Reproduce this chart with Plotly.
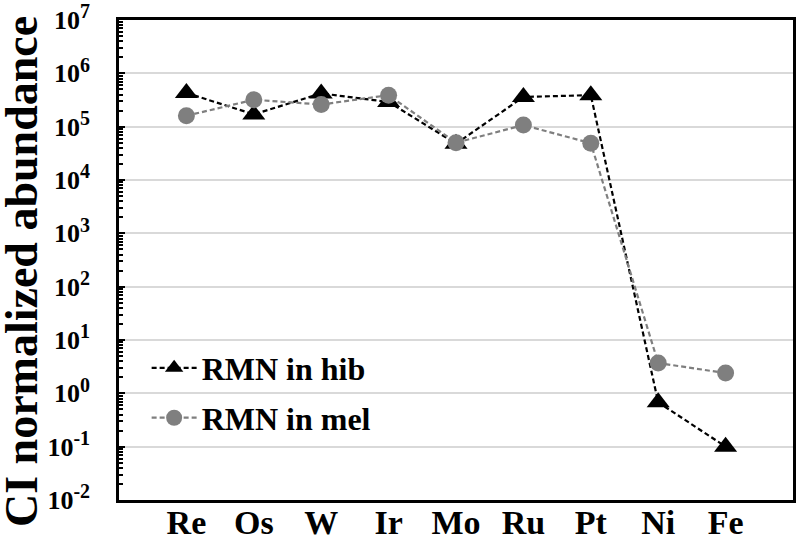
import plotly.graph_objects as go

elements = ["Re", "Os", "W", "Ir", "Mo", "Ru", "Pt", "Ni", "Fe"]
rmn_hib = [4.3e5, 1.7e5, 4.2e5, 2.9e5, 4.8e4, 3.6e5, 3.9e5, 0.68, 0.1]
rmn_mel = [1.6e5, 3.2e5, 2.6e5, 3.9e5, 5.0e4, 1.07e5, 4.9e4, 3.7, 2.4]
ytick_vals = [1e-2, 1e-1, 1e0, 1e1, 1e2, 1e3, 1e4, 1e5, 1e6, 1e7]
ytick_exp = ["-2", "-1", "0", "1", "2", "3", "4", "5", "6", "7"]
minor_vals = [m * 10.0 ** e for e in range(-2, 7) for m in range(2, 10)]

FONT = "'Liberation Serif', 'Times New Roman', serif"

ytick_text = ["<b>10<sup><span style='font-size:20px'>%s</span></sup></b>" % e
              for e in ytick_exp]

fig = go.Figure()
fig.add_trace(go.Scatter(
    x=elements, y=rmn_hib, name="<b>RMN in hib</b>", mode="lines+markers",
    line=dict(color="black", width=2.2, dash="5px,3px"),
    marker=dict(symbol="triangle-up", size=20, color="black"),
    legend="legend",
))
fig.add_trace(go.Scatter(
    x=elements, y=rmn_mel, name="<b>RMN in mel</b>", mode="lines+markers",
    line=dict(color="#7f7f7f", width=2.2, dash="5px,3px"),
    marker=dict(symbol="circle", size=17, color="#7f7f7f"),
    legend="legend2",
))

fig.update_layout(
    width=800, height=547,
    margin=dict(l=119, r=7, t=20, b=47),
    plot_bgcolor="white", paper_bgcolor="white",
    font=dict(family=FONT, color="black"),
    showlegend=True,
    legend=dict(x=0.041, y=0.275, xanchor="left", yanchor="middle", itemwidth=45,
                font=dict(size=32, family=FONT, color="black"),
                bgcolor="rgba(0,0,0,0)"),
    legend2=dict(x=0.041, y=0.171, xanchor="left", yanchor="middle", itemwidth=45,
                 font=dict(size=32, family=FONT, color="black"),
                 bgcolor="rgba(0,0,0,0)"),
    annotations=[dict(
        text="<b>CI normalized abundance</b>", textangle=-90,
        xref="paper", yref="paper", x=(21 - 119) / 674, y=(500 - 272) / 480,
        xanchor="center", yanchor="middle", showarrow=False,
        font=dict(size=46, family=FONT, color="black"),
    )],
)
fig.update_xaxes(
    type="category", range=[-1, 9], automargin=False,
    tickvals=elements, ticktext=["<b>%s</b>" % e for e in elements],
    showgrid=False, showline=True, mirror=True, linecolor="black", linewidth=2.5,
    ticks="", tickfont=dict(size=34, family=FONT, color="black"),
    ticklabelstandoff=-10,
)
fig.update_yaxes(
    type="log", range=[-2, 7], automargin=False,
    tickmode="array", tickvals=ytick_vals, ticktext=ytick_text,
    showgrid=True, gridcolor="#d9d9d9", gridwidth=2,
    showline=True, mirror=True, linecolor="black", linewidth=2.5,
    ticks="inside", ticklen=6, tickwidth=1.5, tickcolor="black",
    minor=dict(tickmode="array", tickvals=minor_vals, ticks="inside", ticklen=4,
               tickwidth=1.5, tickcolor="black", showgrid=False),
    tickfont=dict(size=26, family=FONT, color="black"),
    ticklabelstandoff=21,
)

fig.write_html(
    "out.html",
    config={"displayModeBar": False},
    post_script="document.body.style.margin='0';document.body.style.padding='0';",
)
